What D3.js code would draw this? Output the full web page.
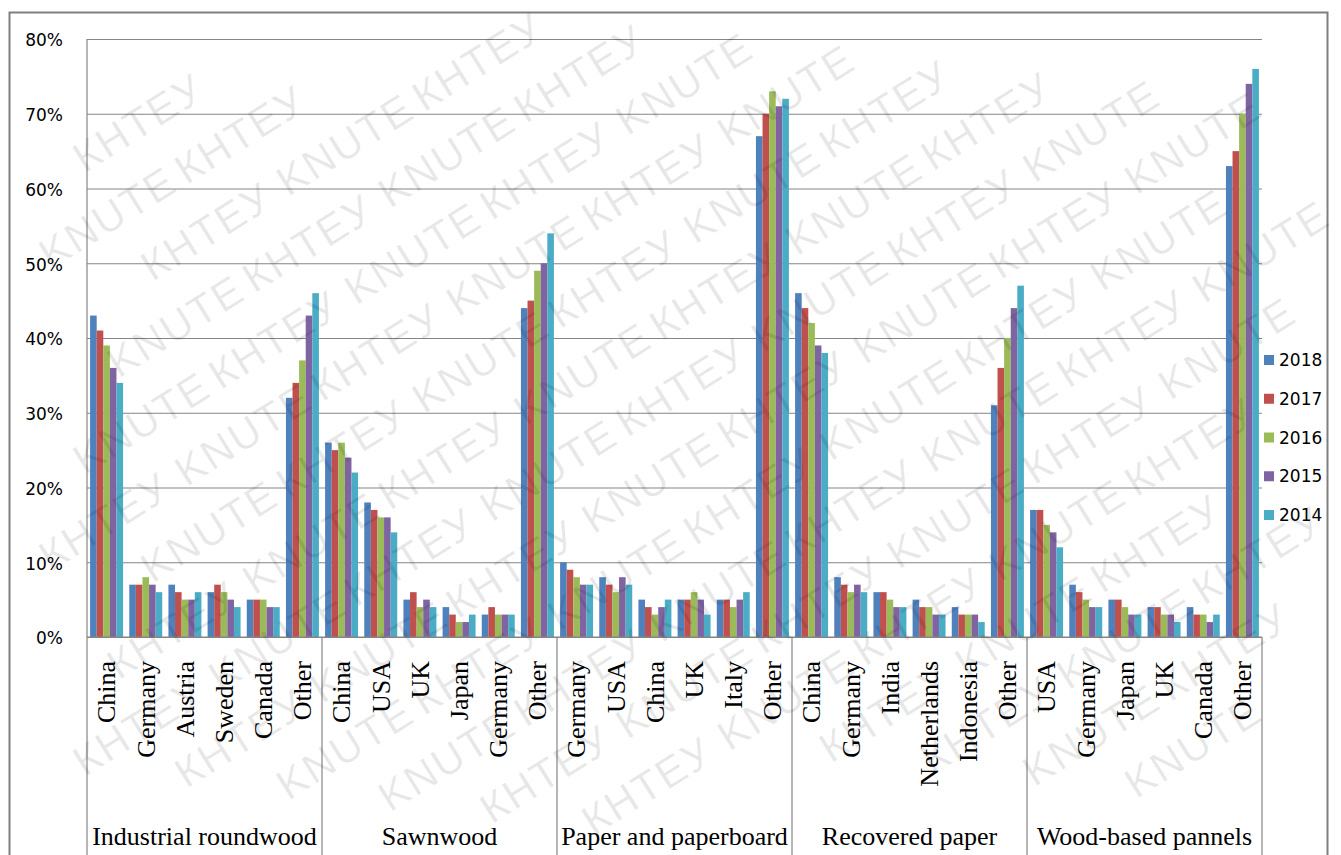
<!DOCTYPE html>
<html>
<head>
<meta charset="utf-8">
<script src="https://cdn.jsdelivr.net/npm/d3@7"></script>
<style>
  html, body { margin: 0; padding: 0; background: #fff; overflow: hidden; }
  svg { display: block; }
</style>
</head>
<body>
<svg id="chart" width="1341" height="855"></svg>
<script>
// Product groups and the exporting countries inside each of them
const groups = ["Industrial roundwood", "Sawnwood", "Paper and paperboard", "Recovered paper", "Wood-based pannels"];
const countries = [
  ["China", "Germany", "Austria", "Sweden", "Canada", "Other"],
  ["China", "USA", "UK", "Japan", "Germany", "Other"],
  ["Germany", "USA", "China", "UK", "Italy", "Other"],
  ["China", "Germany", "India", "Netherlands", "Indonesia", "Other"],
  ["USA", "Germany", "Japan", "UK", "Canada", "Other"]
];
const years = ["2018", "2017", "2016", "2015", "2014"];
const yearColors = ["#4F81BD", "#C0504D", "#9BBB59", "#8064A2", "#4BACC6"];

// Share (%) per year, one array per year, in the order of the 30 categories
const share2018 = [43, 7, 7, 6, 5, 32,  26, 18, 5, 4, 3, 44,  10, 8, 5, 5, 5, 67,  46, 8, 6, 5, 4, 31,  17, 7, 5, 4, 4, 63];
const share2017 = [41, 7, 6, 7, 5, 34,  25, 17, 6, 3, 4, 45,   9, 7, 4, 5, 5, 70,  44, 7, 6, 4, 3, 36,  17, 6, 5, 4, 3, 65];
const share2016 = [39, 8, 5, 6, 5, 37,  26, 16, 4, 2, 3, 49,   8, 6, 3, 6, 4, 73,  42, 6, 5, 4, 3, 40,  15, 5, 4, 3, 3, 70];
const share2015 = [36, 7, 5, 5, 4, 43,  24, 16, 5, 2, 3, 50,   7, 8, 4, 5, 5, 71,  39, 7, 4, 3, 3, 44,  14, 4, 3, 3, 2, 74];
const share2014 = [34, 6, 6, 4, 4, 46,  22, 14, 4, 3, 3, 54,   7, 7, 5, 3, 6, 72,  38, 6, 4, 3, 2, 47,  12, 4, 3, 2, 3, 76];
const seriesValues = [share2018, share2017, share2016, share2015, share2014];

const yTicks = [0, 10, 20, 30, 40, 50, 60, 70, 80];

// Watermark words, alternating along each diagonal row
const watermarkWords = ["КНТЕУ", "KNUTE"];

// Flatten the categories into one band domain
const categories = [];
groups.forEach((g, gi) => countries[gi].forEach((c, ci) => categories.push({ key: gi + "-" + ci, group: gi, name: c })));

const W = 1341, H = 855;
const svg = d3.select("#chart");
const plot = { left: 87, right: 1262, top: 39, bottom: 637 };
const axisGray = "#858585";

const x = d3.scaleBand().domain(categories.map(d => d.key)).range([plot.left, plot.right]).padding(0);
const xYear = d3.scaleBand().domain(years).range([0, x.bandwidth()]).paddingInner(0).paddingOuter(0.47);
const y = d3.scaleLinear().domain([0, 80]).range([plot.bottom, plot.top]);

// Horizontal gridlines and the value axis labels
const yAxis = d3.axisLeft(y).tickValues(yTicks).tickFormat(d => d + "%").tickSize(-(plot.right - plot.left)).tickPadding(24);
const yG = svg.append("g").attr("transform", `translate(${plot.left},0)`).call(yAxis);
yG.select(".domain").remove();
yG.selectAll(".tick line").attr("stroke", axisGray).attr("stroke-width", 1.2);
yG.selectAll(".tick text")
  .attr("font-family", "'DejaVu Sans', Verdana, sans-serif")
  .attr("font-size", 17)
  .attr("fill", "#000")
  .attr("dy", "0.4em");

// Bars
const barsG = svg.append("g");
years.forEach((yr, si) => {
  barsG.append("g")
    .attr("fill", yearColors[si])
    .selectAll("rect")
    .data(categories.map((c, i) => ({ key: c.key, v: seriesValues[si][i] })))
    .join("rect")
    .attr("x", d => x(d.key) + xYear(yr))
    .attr("width", xYear.bandwidth())
    .attr("y", d => y(d.v))
    .attr("height", d => y(0) - y(d.v));
});

// Category axis: baseline and group separators
const bottomG = svg.append("g");
bottomG.append("line")
  .attr("x1", plot.left).attr("x2", plot.right)
  .attr("y1", y(0)).attr("y2", y(0))
  .attr("stroke", axisGray).attr("stroke-width", 1.2);
bottomG.append("line")
  .attr("x1", plot.left).attr("x2", plot.left)
  .attr("y1", plot.top).attr("y2", y(0))
  .attr("stroke", axisGray).attr("stroke-width", 1.2);

const groupEdges = groups.map((g, gi) => x(gi + "-0")).concat([plot.right]);
bottomG.selectAll("line.sep")
  .data(groupEdges)
  .join("line")
  .attr("class", "sep")
  .attr("x1", d => d).attr("x2", d => d)
  .attr("y1", y(0)).attr("y2", 900)
  .attr("stroke", axisGray).attr("stroke-width", 1.2);

// Country labels, rotated
bottomG.selectAll("text.cat")
  .data(categories)
  .join("text")
  .attr("class", "cat")
  .attr("transform", d => `translate(${x(d.key) + x.bandwidth() / 2},${661}) rotate(-90)`)
  .attr("text-anchor", "end")
  .attr("dy", "0.34em")
  .attr("font-family", "'Liberation Serif', 'Times New Roman', serif")
  .attr("font-size", 26)
  .attr("fill", "#000")
  .text(d => d.name);

// Product group labels
bottomG.selectAll("text.grp")
  .data(groups)
  .join("text")
  .attr("class", "grp")
  .attr("x", (d, gi) => (groupEdges[gi] + groupEdges[gi + 1]) / 2)
  .attr("y", 845)
  .attr("text-anchor", "middle")
  .attr("font-family", "'Liberation Serif', 'Times New Roman', serif")
  .attr("font-size", 26)
  .attr("fill", "#000")
  .text(d => d);

// Legend
const legend = svg.append("g").attr("transform", "translate(1264,360)");
const legendStep = 38.75;
const items = legend.selectAll("g").data(years).join("g")
  .attr("transform", (d, i) => `translate(0,${i * legendStep})`);
items.append("rect")
  .attr("x", 0).attr("y", -5).attr("width", 10).attr("height", 10)
  .attr("fill", (d, i) => yearColors[i]);
items.append("text")
  .attr("x", 15).attr("y", 0).attr("dy", "0.36em")
  .attr("font-family", "'DejaVu Sans', Verdana, sans-serif")
  .attr("font-size", 17)
  .attr("fill", "#000")
  .text(d => d);

// Outer frame
svg.append("rect")
  .attr("x", 9.5).attr("y", 12.5).attr("width", 1318).attr("height", 900)
  .attr("fill", "none").attr("stroke", "#7f7f7f").attr("stroke-width", 2);

// Diagonal watermark: single words laid along rotated rows, kept only when fully on the sheet
const wm = svg.append("g")
  .attr("pointer-events", "none")
  .attr("font-family", "'Liberation Sans', Arial, sans-serif")
  .attr("font-size", 42)
  .attr("letter-spacing", 2)
  .attr("fill", "#000")
  .attr("fill-opacity", 0.09);
const angle = -32;
const rowGap = 64;
const wordGap = 160;
const svgBox = svg.node().getBoundingClientRect();
d3.range(-14, 24).forEach(r => {
  d3.range(0, 16).forEach(k => {
    const lx = -900 + (r % 2 ? 80 : 0) + k * wordGap;
    const ly = r * rowGap;
    const t = wm.append("text")
      .attr("transform", `rotate(${angle}) translate(${lx},${ly})`)
      .text(watermarkWords[(k + (r % 2 ? 1 : 0)) % 2 === 0 ? 0 : 1]);
    const b = t.node().getBoundingClientRect();
    const bx = b.left - svgBox.left, by = b.top - svgBox.top;
    if (bx < 0 || by < 0 || bx + b.width > W || by + b.height > H) t.remove();
  });
});
</script>
</body>
</html>
